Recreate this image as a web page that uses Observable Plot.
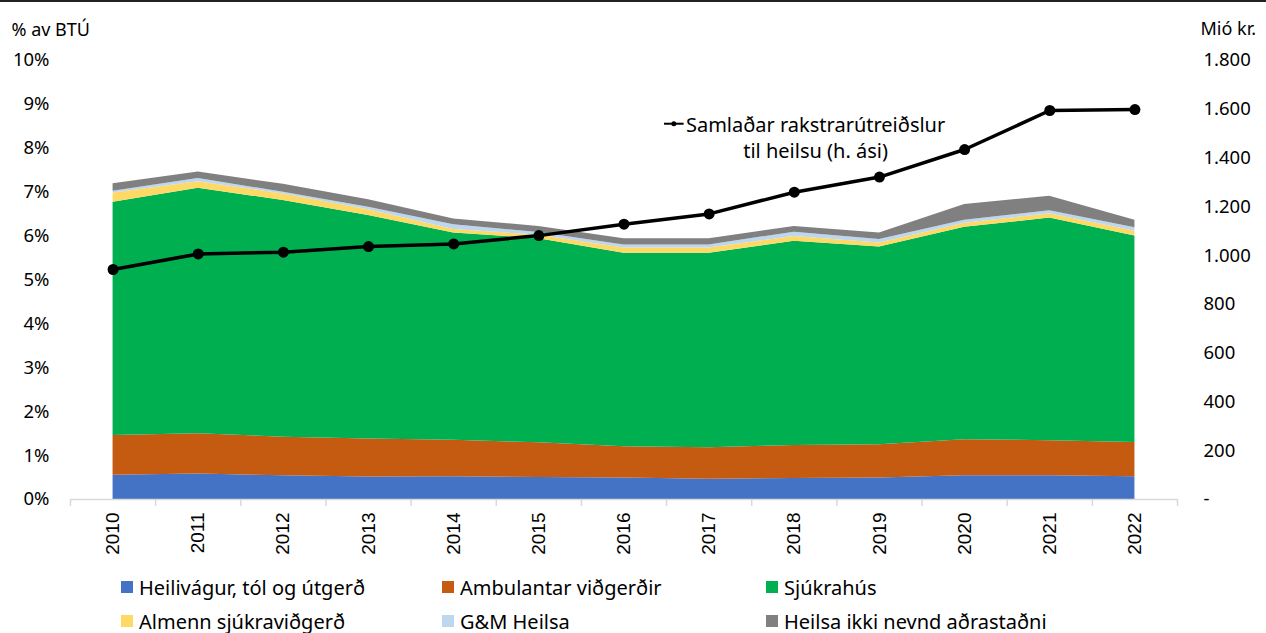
<!DOCTYPE html>
<html>
<head>
<meta charset="utf-8">
<script src="https://cdn.jsdelivr.net/npm/d3@7"></script>
<script src="https://cdn.jsdelivr.net/npm/@observablehq/plot@0.6"></script>
<style>
  html, body { margin: 0; padding: 0; background: #fff; }
  #wrap { width: 1266px; height: 631px; border-top: 2px solid #222; overflow: hidden; position: relative; }
  #legend { font-family: "Noto Sans", sans-serif; font-size: 20px; color: #000;
            display: grid; grid-template-columns: 321px 324px auto; padding-left: 121px; padding-top: 8px; }
  .item { display: flex; align-items: center; height: 34px; white-space: nowrap; }
  .sw { width: 12px; height: 12px; margin-right: 6px; flex: none; }
</style>
</head>
<body>
<div id="wrap"><div id="chart"></div><div id="legend"></div></div>
<script>
// ---- data ----
const years = [2010, 2011, 2012, 2013, 2014, 2015, 2016, 2017, 2018, 2019, 2020, 2021, 2022];
const series = ["Heilivágur, tól og útgerð", "Ambulantar viðgerðir", "Sjúkrahús",
                "Almenn sjúkraviðgerð", "G&M Heilsa", "Heilsa ikki nevnd aðrastaðni"];
const colors = ["#4472C4", "#C55A11", "#00B050", "#FFD966", "#BDD7EE", "#808080"];
// % av BTÚ
const heilivagur   = [0.55, 0.58, 0.54, 0.51, 0.52, 0.50, 0.49, 0.46, 0.48, 0.49, 0.54, 0.54, 0.52];
const ambulantar   = [0.91, 0.92, 0.88, 0.87, 0.83, 0.79, 0.71, 0.72, 0.75, 0.76, 0.82, 0.80, 0.78];
const sjukrahus    = [5.31, 5.59, 5.39, 5.09, 4.72, 4.65, 4.41, 4.43, 4.65, 4.50, 4.84, 5.07, 4.70];
const almenn       = [0.21, 0.15, 0.15, 0.13, 0.08, 0.08, 0.12, 0.12, 0.11, 0.09, 0.09, 0.10, 0.11];
const gmHeilsa     = [0.04, 0.07, 0.04, 0.06, 0.11, 0.06, 0.07, 0.07, 0.10, 0.08, 0.07, 0.07, 0.08];
const ikkiNevnd    = [0.17, 0.15, 0.18, 0.17, 0.13, 0.14, 0.14, 0.14, 0.13, 0.15, 0.36, 0.33, 0.17];
// Mió kr. (right axis)
const samladar     = [943, 1007, 1014, 1037, 1048, 1082, 1129, 1171, 1260, 1322, 1435, 1595, 1599];

const leftTicks  = [0, 1, 2, 3, 4, 5, 6, 7, 8, 9, 10];
const rightTicks = [0, 200, 400, 600, 800, 1000, 1200, 1400, 1600, 1800];
const leftTitle = "% av BTÚ";
const rightTitle = "Mió kr.";
const lineLabel = "Samlaðar rakstrarútreiðslur\ntil heilsu (h. ási)";
// annotation anchor (data units)
const labelAt = {year: 2018.25, pct: 8.27};
const keyAt = {year1: 2016.47, year2: 2016.70, pct: 8.56};

// ---- build ----
const valuesBySeries = [heilivagur, ambulantar, sjukrahus, almenn, gmHeilsa, ikkiNevnd];
const table = [];
series.forEach((s, i) => years.forEach((y, j) => table.push({year: y, series: s, value: valuesBySeries[i][j]})));
const lineData = years.map((y, j) => ({year: y, value: samladar[j]}));
const rightMax = 1800, leftMax = 10, k = rightMax / leftMax;
const boundaries = d3.range(years.length + 1).map(i => years[0] - 0.5 + i);
const fmtRight = d => { const v = Math.round(d * k); return v === 0 ? "-" : d3.format(",")(v).replace(/,/g, "."); };

const chart = Plot.plot({
  width: 1266, height: 560,
  marginTop: 58, marginBottom: 63, marginLeft: 70, marginRight: 89,
  style: {fontFamily: "Noto Sans", fontSize: "18.5px", color: "#000", background: "#fff", overflow: "visible"},
  x: {type: "linear", domain: [years[0] - 0.5, years[years.length - 1] + 0.5], label: null},
  y: {domain: [0, leftMax], label: null},
  color: {domain: series, range: colors},
  marks: [
    Plot.areaY(table, Plot.stackY({x: "year", y: "value", z: "series", fill: "series", order: series})),
    Plot.ruleY([0], {stroke: "#d9d9d9", strokeWidth: 1.5}),
    Plot.axisX({ticks: boundaries, tickSize: 7, tickFormat: () => "", stroke: "#d9d9d9", strokeWidth: 1.5}),
    Plot.axisX({ticks: years, tickSize: 0, tickRotate: -90, tickPadding: 13, tickFormat: d => String(d),
                fontFamily: "Liberation Sans", fontSize: 19, fill: "#000"}),
    Plot.axisY({anchor: "left", ticks: leftTicks, tickSize: 0, tickPadding: 21, tickFormat: d => d + "%", fill: "#000"}),
    Plot.axisY({anchor: "right", ticks: rightTicks.map(v => v / k), tickSize: 0, tickPadding: 26, tickFormat: fmtRight, fill: "#000"}),
    Plot.line(lineData, {x: "year", y: d => d.value / k, stroke: "#000", strokeWidth: 3.5}),
    Plot.dot(lineData, {x: "year", y: d => d.value / k, r: 5.5, fill: "#000"}),
    Plot.text([lineLabel], {x: labelAt.year, y: labelAt.pct, text: d => d, fontSize: 20, lineHeight: 1.3,
               textAnchor: "middle", lineAnchor: "middle", fill: "#000"}),
    Plot.link([keyAt], {x1: "year1", x2: "year2", y1: "pct", y2: "pct", stroke: "#000", strokeWidth: 2}),
    Plot.dot([keyAt], {x: d => (d.year1 + d.year2) / 2, y: "pct", r: 2.5, fill: "#000"}),
    Plot.text([leftTitle], {frameAnchor: "top-left", dx: -59, dy: -37, textAnchor: "start", fontSize: 18, fill: "#000"}),
    Plot.text([rightTitle], {frameAnchor: "top-right", dx: 23, dy: -38, textAnchor: "start", fontSize: 18, fill: "#000"})
  ]
});
document.getElementById("chart").append(chart);

const legend = document.getElementById("legend");
series.forEach((s, i) => {
  const it = document.createElement("div"); it.className = "item";
  const sw = document.createElement("span"); sw.className = "sw"; sw.style.background = colors[i];
  const tx = document.createElement("span"); tx.textContent = s;
  it.append(sw, tx); legend.append(it);
});
</script>
</body>
</html>
